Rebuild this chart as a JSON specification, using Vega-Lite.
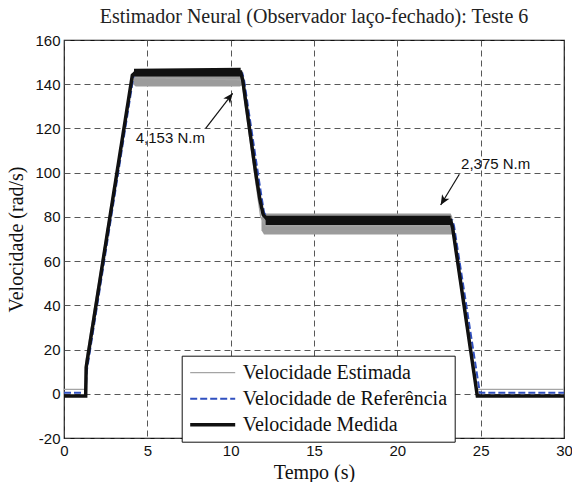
{
  "$schema": "https://vega.github.io/schema/vega-lite/v6.json",
  "width": 500,
  "height": 398,
  "autosize": {"type": "none"},
  "padding": {"left": 64, "top": 40, "right": 8, "bottom": 44},
  "background": "white",
  "title": {"text": "Estimador Neural (Observador laço-fechado): Teste 6", "font": "Liberation Serif", "fontSize": 20, "fontWeight": "normal", "color": "#222", "anchor": "middle", "frame": "group", "baseline": "alphabetic", "offset": -10},
  "config": {
    "view": {"stroke": "#111", "strokeWidth": 1.2},
    "axis": {"grid": true, "gridDash": [6, 4], "gridColor": "#444", "gridWidth": 0.9, "gridOpacity": 1, "ticks": false, "domain": false, "labelFont": "Liberation Sans", "labelFontSize": 15, "labelColor": "#111", "labelFlush": false, "labelOverlap": false, "titleFont": "Liberation Serif", "titleFontSize": 20, "titleFontWeight": "normal", "titleColor": "#111"}
  },
  "datasets": {
    "lines": [
      {"s": "Velocidade Estimada", "t": 0, "v": 2},
      {"s": "Velocidade Estimada", "t": 1.28, "v": 2},
      {"s": "Velocidade Estimada", "t": 1.32, "v": 15},
      {"s": "Velocidade Estimada", "t": 4.05, "v": 142},
      {"s": "Velocidade Estimada", "t": 4.3, "v": 143},
      {"s": "Velocidade Estimada", "t": 10.6, "v": 142},
      {"s": "Velocidade Estimada", "t": 10.72, "v": 139},
      {"s": "Velocidade Estimada", "t": 11.5, "v": 96},
      {"s": "Velocidade Estimada", "t": 11.8, "v": 80},
      {"s": "Velocidade Estimada", "t": 12.1, "v": 76},
      {"s": "Velocidade Estimada", "t": 23.2, "v": 76},
      {"s": "Velocidade Estimada", "t": 23.3, "v": 74},
      {"s": "Velocidade Estimada", "t": 24.72, "v": 2},
      {"s": "Velocidade Estimada", "t": 30, "v": 2},
      {"s": "Velocidade de Referência", "t": 0, "v": 0.5},
      {"s": "Velocidade de Referência", "t": 1.3, "v": 0.5},
      {"s": "Velocidade de Referência", "t": 1.36, "v": 10},
      {"s": "Velocidade de Referência", "t": 4.2, "v": 145},
      {"s": "Velocidade de Referência", "t": 10.7, "v": 145},
      {"s": "Velocidade de Referência", "t": 10.8, "v": 142},
      {"s": "Velocidade de Referência", "t": 11.75, "v": 94},
      {"s": "Velocidade de Referência", "t": 12.0, "v": 82},
      {"s": "Velocidade de Referência", "t": 12.3, "v": 78.5},
      {"s": "Velocidade de Referência", "t": 23.3, "v": 78.5},
      {"s": "Velocidade de Referência", "t": 23.4, "v": 76},
      {"s": "Velocidade de Referência", "t": 24.95, "v": 0.5},
      {"s": "Velocidade de Referência", "t": 30, "v": 0.5},
      {"s": "Velocidade Medida", "t": 0, "v": -1},
      {"s": "Velocidade Medida", "t": 1.3, "v": -1},
      {"s": "Velocidade Medida", "t": 1.33, "v": 12},
      {"s": "Velocidade Medida", "t": 4.1, "v": 144},
      {"s": "Velocidade Medida", "t": 4.3, "v": 145.5},
      {"s": "Velocidade Medida", "t": 10.6, "v": 145.5},
      {"s": "Velocidade Medida", "t": 10.72, "v": 142},
      {"s": "Velocidade Medida", "t": 11.5, "v": 100},
      {"s": "Velocidade Medida", "t": 11.75, "v": 88},
      {"s": "Velocidade Medida", "t": 11.95, "v": 81},
      {"s": "Velocidade Medida", "t": 12.25, "v": 78.5},
      {"s": "Velocidade Medida", "t": 23.2, "v": 78.5},
      {"s": "Velocidade Medida", "t": 23.32, "v": 75},
      {"s": "Velocidade Medida", "t": 24.8, "v": -1},
      {"s": "Velocidade Medida", "t": 30, "v": -1}
    ],
    "bandEst": [
      {"seg": "a", "t": 4.15, "lo": 140, "hi": 143},
      {"seg": "a", "t": 4.3, "lo": 139, "hi": 145},
      {"seg": "a", "t": 10.55, "lo": 139, "hi": 145},
      {"seg": "a", "t": 10.68, "lo": 139.5, "hi": 143},
      {"seg": "b", "t": 11.85, "lo": 74, "hi": 80},
      {"seg": "b", "t": 12.0, "lo": 72, "hi": 81.5},
      {"seg": "b", "t": 23.2, "lo": 72, "hi": 81.5},
      {"seg": "b", "t": 23.3, "lo": 72, "hi": 80}
    ],
    "bandMed": [
      {"seg": "a", "t": 4.2, "lo": 143.5, "hi": 147},
      {"seg": "a", "t": 10.6, "lo": 143.5, "hi": 147.5},
      {"seg": "b", "t": 12.1, "lo": 76.3, "hi": 80.5},
      {"seg": "b", "t": 23.2, "lo": 76.3, "hi": 80.5}
    ],
    "arrows": [
      {"t": 8.5, "v": 120.06, "t2": 10.12, "v2": 135.9, "ang": 37.6},
      {"t": 23.72, "v": 99.26, "t2": 22.6, "v2": 85.4, "ang": 211.2}
    ],
    "notes": [
      {"t": 6.38, "v": 115.5, "label": "4,153 N.m"},
      {"t": 25.9, "v": 103.8, "label": "2,375 N.m"}
    ]
  },
  "layer": [
    {
      "data": {"name": "bandEst"},
      "mark": {"type": "area", "color": "#9c9c9c", "opacity": 1},
      "encoding": {
        "x": {"field": "t", "type": "quantitative", "scale": {"domain": [0, 30], "nice": false}, "axis": {"title": "Tempo (s)", "values": [0, 5, 10, 15, 20, 25, 30], "labelPadding": 5, "titlePadding": 4}},
        "y": {"field": "lo", "type": "quantitative", "scale": {"domain": [-20, 160], "nice": false}, "axis": {"title": "Velocidade (rad/s)", "values": [-20, 0, 20, 40, 60, 80, 100, 120, 140, 160], "labelExpr": "'' + datum.value", "labelPadding": 4, "titlePadding": 8}},
        "y2": {"field": "hi"},
        "detail": {"field": "seg"}
      }
    },
    {
      "data": {"name": "lines"},
      "mark": {"type": "line", "interpolate": "linear"},
      "encoding": {
        "x": {"field": "t", "type": "quantitative"},
        "y": {"field": "v", "type": "quantitative"},
        "color": {
          "field": "s", "type": "nominal",
          "scale": {"domain": ["Velocidade Estimada", "Velocidade de Referência", "Velocidade Medida"], "range": ["#a4a4a4", "#3050c0", "#111111"]},
          "legend": {
            "orient": "none", "legendX": 117.7, "legendY": 315.7, "title": null,
            "symbolType": "stroke", "symbolSize": 2025, "symbolStrokeWidth": 1.5, "symbolOffset": 14,
            "labelFont": "Liberation Serif", "labelFontSize": 20, "labelColor": "#111", "labelLimit": 400, "labelOffset": 20,
            "rowPadding": 6, "padding": 7, "strokeColor": "#111", "fillColor": "#ffffff",
            "encode": {"symbols": {"update": {
              "strokeWidth": {"signal": "datum.value === 'Velocidade Medida' ? 3.5 : datum.value === 'Velocidade de Referência' ? 2 : 1.3"},
              "strokeDash": {"signal": "datum.value === 'Velocidade de Referência' ? [7, 3] : [1, 0]"}
            }}}
          }
        },
        "strokeWidth": {"condition": [{"test": "datum.s === 'Velocidade Medida'", "value": 3.5}, {"test": "datum.s === 'Velocidade de Referência'", "value": 2}], "value": 1.3},
        "strokeDash": {"condition": {"test": "datum.s === 'Velocidade de Referência'", "value": [7, 3]}, "value": [1, 0]}
      }
    },
    {
      "data": {"name": "bandMed"},
      "mark": {"type": "area", "color": "#111111", "opacity": 1},
      "encoding": {
        "x": {"field": "t", "type": "quantitative"},
        "y": {"field": "lo", "type": "quantitative"},
        "y2": {"field": "hi"},
        "detail": {"field": "seg"}
      }
    },
    {
      "data": {"name": "arrows"},
      "mark": {"type": "rule", "color": "#111", "strokeWidth": 1.2},
      "encoding": {
        "x": {"field": "t", "type": "quantitative"},
        "y": {"field": "v", "type": "quantitative"},
        "x2": {"field": "t2"},
        "y2": {"field": "v2"}
      }
    },
    {
      "data": {"name": "arrows"},
      "mark": {"type": "point", "shape": "M0,0L-0.7,1.6L0,1.2L0.7,1.6Z", "filled": true, "color": "#111", "opacity": 1, "size": 150},
      "encoding": {
        "x": {"field": "t2", "type": "quantitative"},
        "y": {"field": "v2", "type": "quantitative"},
        "angle": {"field": "ang", "type": "quantitative", "scale": null}
      }
    },
    {
      "data": {"name": "notes"},
      "mark": {"type": "text", "font": "Liberation Sans", "fontSize": 15, "color": "#111", "align": "center", "baseline": "middle"},
      "encoding": {
        "x": {"field": "t", "type": "quantitative"},
        "y": {"field": "v", "type": "quantitative"},
        "text": {"field": "label"}
      }
    }
  ]
}
